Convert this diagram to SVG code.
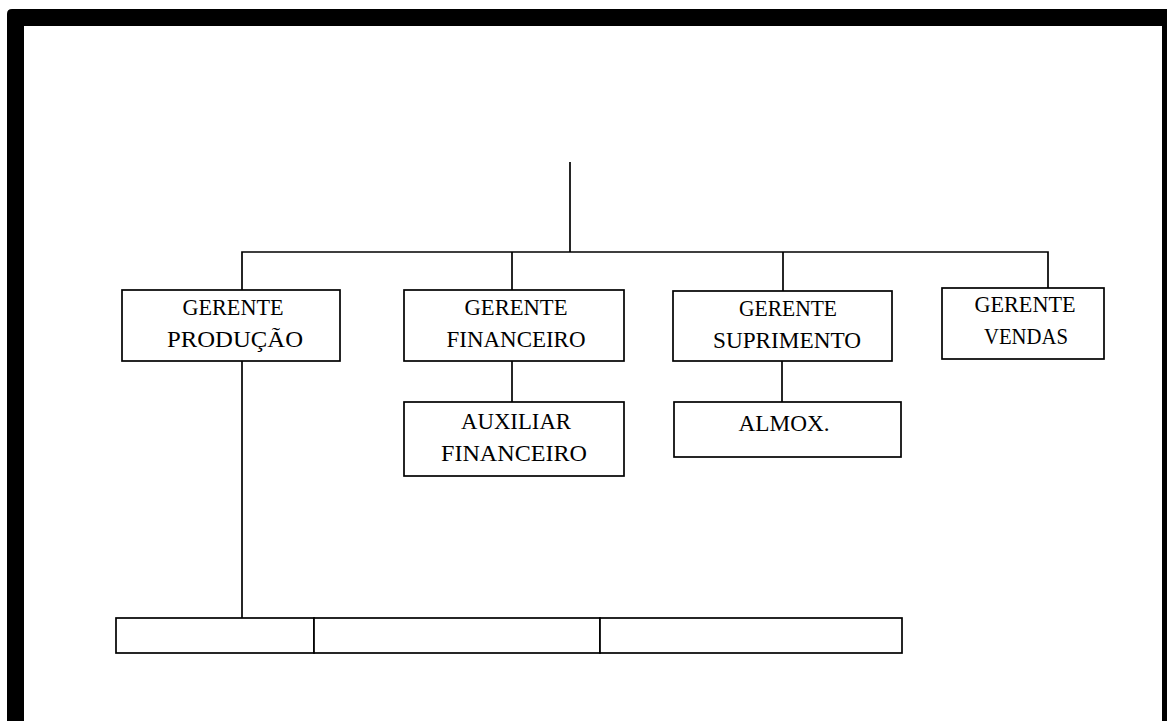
<svg xmlns="http://www.w3.org/2000/svg" width="1167" height="721" viewBox="0 0 1167 721">
<style>
.box{fill:#fff;stroke:#000;stroke-width:1.7}
.ln{fill:none;stroke:#000;stroke-width:1.7}
text{font-family:"Liberation Serif","Times New Roman",serif;font-size:22.5px;fill:#000;text-anchor:middle}
</style>
<rect width="1167" height="721" fill="#fff"/>
<path d="M12,9 H1190 V740 H7 V14 Q7,9 12,9 Z M24,26 V740 H1162 V26 Z" fill="#000" fill-rule="evenodd"/>
<g id="connectors" class="ln">
<path d="M570,162 V252"/>
<path d="M242,290 V252 H1048 V288"/>
<path d="M512,252 V290"/>
<path d="M783,252 V291"/>
<path d="M512,361 V402"/>
<path d="M782,361 V402"/>
<path d="M242,361 V618"/>
</g>
<g id="gerente-producao">
<rect class="box" x="122" y="290" width="218" height="71"/>
<text x="233" y="315" textLength="101" lengthAdjust="spacingAndGlyphs">GERENTE</text>
<text x="235" y="347" textLength="136" lengthAdjust="spacingAndGlyphs">PRODUÇÃO</text>
</g>
<g id="gerente-financeiro">
<rect class="box" x="404" y="290" width="220" height="71"/>
<text x="516" y="315" textLength="103" lengthAdjust="spacingAndGlyphs">GERENTE</text>
<text x="516" y="347" textLength="139" lengthAdjust="spacingAndGlyphs">FINANCEIRO</text>
</g>
<g id="gerente-suprimento">
<rect class="box" x="673" y="291" width="219" height="70"/>
<text x="788" y="316" textLength="98" lengthAdjust="spacingAndGlyphs">GERENTE</text>
<text x="787" y="348" textLength="148" lengthAdjust="spacingAndGlyphs">SUPRIMENTO</text>
</g>
<g id="gerente-vendas">
<rect class="box" x="942" y="288" width="162" height="71"/>
<text x="1025" y="312" textLength="101" lengthAdjust="spacingAndGlyphs">GERENTE</text>
<text x="1026" y="344" textLength="84" lengthAdjust="spacingAndGlyphs">VENDAS</text>
</g>
<g id="auxiliar-financeiro">
<rect class="box" x="404" y="402" width="220" height="74"/>
<text x="516" y="429" textLength="110" lengthAdjust="spacingAndGlyphs">AUXILIAR</text>
<text x="514" y="461" textLength="146" lengthAdjust="spacingAndGlyphs">FINANCEIRO</text>
</g>
<g id="almox">
<rect class="box" x="674" y="402" width="227" height="55"/>
<text x="784" y="431" textLength="91" lengthAdjust="spacingAndGlyphs">ALMOX.</text>
</g>
<g id="bottom-1">
<rect class="box" x="116" y="618" width="198" height="35"/>
</g>
<g id="bottom-2">
<rect class="box" x="314" y="618" width="286" height="35"/>
</g>
<g id="bottom-3">
<rect class="box" x="600" y="618" width="302" height="35"/>
</g>
</svg>
